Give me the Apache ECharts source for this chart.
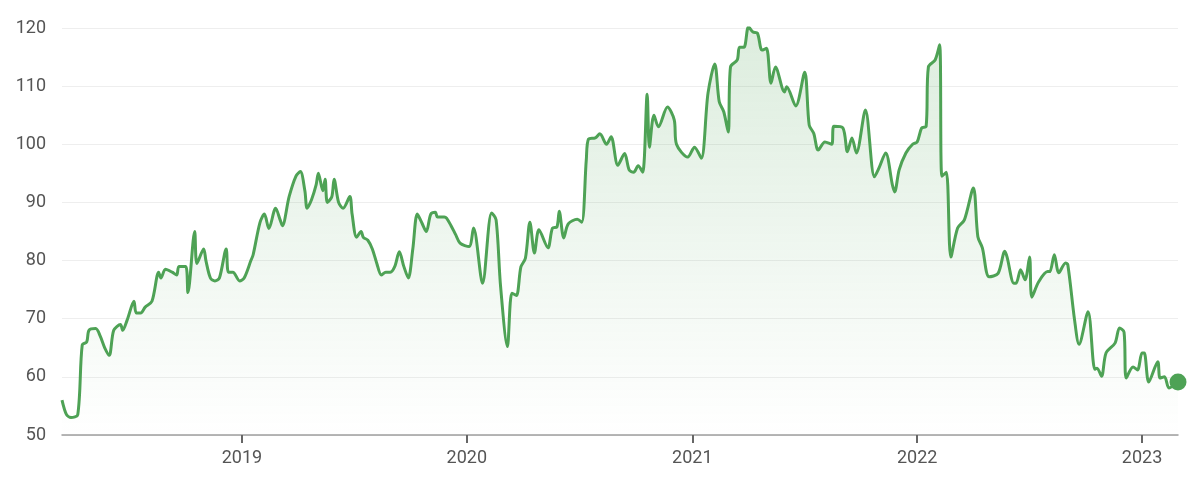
<!DOCTYPE html>
<html><head><meta charset="utf-8">
<script src="https://cdn.jsdelivr.net/npm/echarts@6/dist/echarts.min.js"></script>
<style>html,body{margin:0;padding:0;background:#fff}#c{width:1200px;height:489px}</style>
</head><body><div id="c"></div>
<script>
// decimal years and prices
const years = [2018.20,2018.22,2018.24,2018.27,2018.29,2018.31,2018.32,2018.35,2018.37,2018.39,2018.41,2018.43,2018.46,2018.47,2018.49,2018.52,2018.53,2018.55,2018.57,2018.60,2018.63,2018.64,2018.66,2018.69,2018.71,2018.72,2018.75,2018.76,2018.79,2018.80,2018.83,2018.84,2018.86,2018.88,2018.90,2018.93,2018.94,2018.96,2018.99,2019.01,2019.04,2019.05,2019.08,2019.10,2019.12,2019.15,2019.17,2019.18,2019.21,2019.24,2019.26,2019.28,2019.29,2019.31,2019.33,2019.34,2019.36,2019.37,2019.38,2019.40,2019.41,2019.43,2019.45,2019.48,2019.49,2019.51,2019.53,2019.54,2019.56,2019.58,2019.60,2019.62,2019.64,2019.66,2019.68,2019.70,2019.72,2019.74,2019.76,2019.78,2019.80,2019.82,2019.84,2019.86,2019.87,2019.90,2019.91,2019.93,2019.95,2019.97,2020.01,2020.03,2020.07,2020.11,2020.13,2020.15,2020.18,2020.20,2020.22,2020.24,2020.26,2020.28,2020.30,2020.32,2020.36,2020.38,2020.40,2020.41,2020.43,2020.45,2020.49,2020.51,2020.53,2020.54,2020.57,2020.59,2020.62,2020.64,2020.67,2020.70,2020.72,2020.74,2020.76,2020.78,2020.80,2020.81,2020.83,2020.85,2020.89,2020.92,2020.93,2020.98,2021.01,2021.04,2021.07,2021.10,2021.12,2021.14,2021.16,2021.17,2021.20,2021.21,2021.23,2021.25,2021.27,2021.29,2021.31,2021.33,2021.35,2021.37,2021.41,2021.42,2021.46,2021.50,2021.52,2021.54,2021.56,2021.59,2021.62,2021.63,2021.67,2021.69,2021.71,2021.73,2021.77,2021.81,2021.83,2021.86,2021.89,2021.90,2021.92,2021.95,2021.98,2022.00,2022.02,2022.04,2022.05,2022.08,2022.10,2022.11,2022.13,2022.15,2022.18,2022.21,2022.25,2022.27,2022.29,2022.32,2022.36,2022.39,2022.40,2022.43,2022.44,2022.46,2022.48,2022.50,2022.51,2022.54,2022.58,2022.59,2022.61,2022.63,2022.66,2022.67,2022.70,2022.72,2022.76,2022.79,2022.80,2022.82,2022.84,2022.88,2022.90,2022.92,2022.93,2022.96,2022.98,2023.00,2023.01,2023.03,2023.07,2023.08,2023.10,2023.12,2023.16];
const prices = [56,53.5,53,53.5,65.5,66,68,68.3,67,65,63.7,68,69,68,69.8,73,71,71,72,73,78,77,78.5,78,77.5,79,79,74.5,85,79.5,82,80,77,76.5,77,82,78,78,76.5,77,80,81,86.5,88,85.5,89,87,86,91,94.5,95.3,92,89,90.5,93,95,92,94,90,91,94,90,89,91,88,84,85,84,83.5,82,79.5,77.5,78,78,79,81.5,79,77,82,88,86.5,85,88,88.3,87.5,87.5,87.3,86,84.5,83,82.4,85.6,76.1,88.2,87,75.5,65.2,74.4,74,78.9,80.4,86.6,81.3,85.3,82.2,85.6,85.8,88.5,83.9,86.3,87.1,86.6,97.3,100.9,101.1,101.8,100,101.3,96.4,98.4,95.6,95.2,96.3,95.2,108.6,99.5,105,103,106.4,104.2,100,97.8,99.5,97.6,108.8,113.8,107.3,105.6,102.1,113.3,114.5,116.7,116.7,120.2,119.3,119.1,116.2,116.5,110.5,113.3,109,109.9,106.6,112.4,103.3,101.9,99,100.4,100,103.1,102.8,98.7,101.1,98.5,105.9,94.4,95.9,98.5,93,91.8,95.6,98.5,100,100.4,102.8,103.1,113.3,114.5,117.1,94.5,95.2,80.6,85.6,87,92.5,84.1,82.2,77.2,77.8,81.6,80.6,76.1,76.1,78.4,76.7,80.6,73.7,76.3,78.1,78.1,81,77.9,79.6,79.3,69.8,65.6,71.2,61.3,61.5,60.1,64.1,65.8,68.4,67.7,59.8,61.7,61.2,64.1,64.1,59.1,62.6,59.8,60,58.1,59.1];
const yTicks = [50,60,70,80,90,100,110,120];

function toTs(y){const yr=Math.floor(y);const a=Date.UTC(yr,0,1),b=Date.UTC(yr+1,0,1);return a+(y-yr)*(b-a);}
const data = years.map((y,i)=>[toTs(y),prices[i]]);
const last = data[data.length-1];
const YEAR = 365.25*86400000;
const chart = echarts.init(document.getElementById('c'));
chart.setOption({
  animation:false,
  grid:{left:62,right:22,top:28,bottom:54},
  xAxis:{type:'time',min:data[0][0],max:last[0],minInterval:YEAR,maxInterval:YEAR,
    axisLine:{lineStyle:{color:'#9e9e9e',width:1.5}},
    axisTick:{show:true,length:8,lineStyle:{color:'#666',width:2}},
    axisLabel:{color:'#555',fontSize:18,fontFamily:'Roboto',margin:14,formatter:'{yyyy}',showMinLabel:false},
    splitLine:{show:false}},
  yAxis:{type:'value',min:yTicks[0],max:yTicks[yTicks.length-1],interval:10,
    axisLine:{show:false},axisTick:{show:false},
    axisLabel:{color:'#555',fontSize:18,fontFamily:'Roboto',margin:16},
    splitLine:{lineStyle:{color:'#eeeeee'}}},
  series:[{type:'line',data:data,smooth:0.3,symbol:'none',
    lineStyle:{color:'#4ea255',width:3},
    areaStyle:{color:new echarts.graphic.LinearGradient(0,0,0,1,[{offset:0,color:'rgba(78,162,85,0.28)'},{offset:1,color:'rgba(78,162,85,0)'}])},
    markPoint:{symbol:'circle',symbolSize:17,itemStyle:{color:'#4ea255'},label:{show:false},data:[{coord:last}]}
  }]
});
</script></body></html>
